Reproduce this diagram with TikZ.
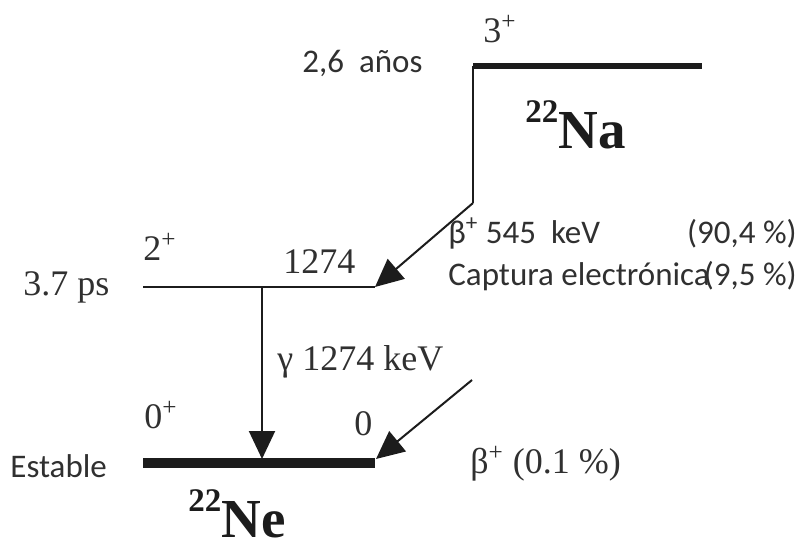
\documentclass[tikz,border=0pt]{standalone}
\usepackage{fontspec}
\setmainfont{Liberation Serif}
\newfontfamily\calfont{Carlito}
\usetikzlibrary{arrows.meta}
\definecolor{dcyInk}{HTML}{1C1C1C}
\definecolor{dcyText}{HTML}{303030}
\tikzset{
  dcy ground/.style={draw=dcyInk, line width=5pt},
  dcy parent/.style={draw=dcyInk, line width=3pt},
  dcy level/.style={draw=dcyInk, line width=1pt},
  dcy link/.style={draw=dcyInk, line width=1pt, -{Triangle[length=14pt,width=13pt]}},
  dcy label/.style={inner sep=0pt, text=dcyText, font=\fontsize{18}{21}\selectfont},
  dcy note/.style={inner sep=0pt, text=dcyText, font=\calfont\fontsize{16.5}{20}\selectfont},
  dcy nuclide/.style={inner sep=0pt, text=dcyInk, font=\fontsize{27.5}{31}\selectfont\bfseries},
}

\begin{document}
\begin{tikzpicture}[x=0.5pt,y=-0.5pt]
  \useasboundingbox (0,0) rectangle (801,546);
  % levels
  \coordinate (na-l) at (473,66);
  \coordinate (na-r) at (702,66);
  \coordinate (ex-l) at (143,287);
  \coordinate (ex-r) at (375,287);
  \coordinate (gs-l) at (143,463);
  \coordinate (gs-r) at (375,463);
  \coordinate (bend) at (473,203);
  \coordinate (gam-top) at (262,287);
  \coordinate (gam-bot) at (262,459);
  \coordinate (bp-top) at (472,380);
  \coordinate (bp-bot) at (376,459);
  \draw[dcy parent] (na-l) -- (na-r);
  \draw[dcy level] (ex-l) -- (ex-r);
  \draw[dcy ground] (gs-l) -- (gs-r);
  % transitions
  \draw[dcy level] (na-l) -- (bend);
  \draw[dcy link] (bend) -- (ex-r);
  \draw[dcy link] (gam-top) -- (gam-bot);
  \draw[dcy link] (bp-top) -- (bp-bot);
  % labels
  \node[dcy label, anchor=base west] (spin-na) at (483,42) {3\textsuperscript{+}};
  \node[dcy note, anchor=base west] (life-na) at (302,72) {2,6\ \ años};
  \node[dcy nuclide, anchor=base west] (name-na) at (525,148) {\raisebox{13pt}{\fontsize{16.5}{18}\selectfont 22}Na};
  \node[dcy note, anchor=base west] (beta-main) at (448,243) {β\textsuperscript{+} 545\ \ keV};
  \node[dcy note, anchor=base east] (beta-pct) at (797,243) {(90,4 \%)};
  \node[dcy note, anchor=base west] (ec-main) at (448,285) {Captura electrónica};
  \node[dcy note, anchor=base east] (ec-pct) at (797,285) {(9,5 \%)};
  \node[dcy label, anchor=base west] (spin-ex) at (143,260) {2\textsuperscript{+}};
  \node[dcy label, anchor=base west] (en-ex) at (283,273) {1274};
  \node[dcy label, anchor=base west] (life-ex) at (23,295) {3.7 ps};
  \node[dcy label, anchor=base west] (gam-lab) at (277,370) {γ 1274 keV};
  \node[dcy label, anchor=base west] (spin-gs) at (144,428) {0\textsuperscript{+}};
  \node[dcy label, anchor=base west] (en-gs) at (354,435) {0};
  \node[dcy note, anchor=base west] (life-gs) at (10,477) {Estable};
  \node[dcy label, anchor=base west] (bp-lab) at (470,473) {β\textsuperscript{+} (0.1 \%)};
  \node[dcy nuclide, anchor=base west] (name-ne) at (188,537) {\raisebox{13pt}{\fontsize{16.5}{18}\selectfont 22}Ne};
\end{tikzpicture}
\end{document}
